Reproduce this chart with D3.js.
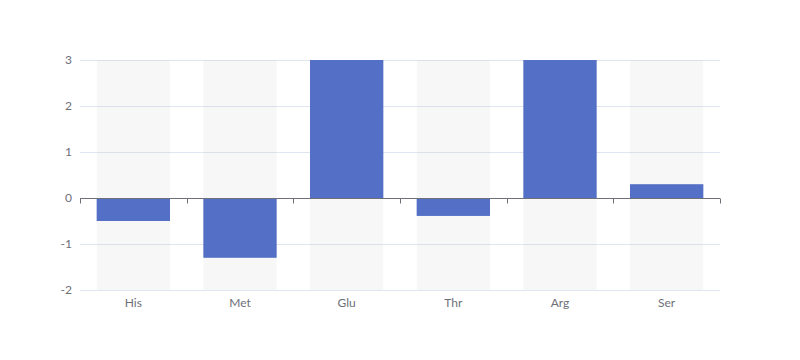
<!DOCTYPE html>
<html><head><meta charset="utf-8">
<script src="https://cdn.jsdelivr.net/npm/d3@7"></script>
<style>body{margin:0;background:#fff}svg{display:block}text{font-family:Lato,sans-serif;font-size:12px;fill:#6E7079}</style>
</head><body><svg id="c" width="800" height="360"></svg>
<script>
const categories = ["His","Met","Glu","Thr","Arg","Ser"];
const values = [-0.5,-1.3,3.6,-0.39,3.6,0.3];
const yTicks = [-2,-1,0,1,2,3];

const W=800,H=360,m={l:80,r:80,t:60,b:70};
const svg=d3.select("#c");
const x=d3.scaleBand().domain(categories).range([m.l,W-m.r]);
const y=d3.scaleLinear().domain([-2,3]).range([H-m.b,m.t]);
const bw=x.bandwidth()*0.6875;

svg.append("g").selectAll("line").data(yTicks).join("line")
 .attr("x1",m.l).attr("x2",W-m.r).attr("y1",d=>y(d)+0.5).attr("y2",d=>y(d)+0.5)
 .attr("stroke","#E0E6F1");
svg.append("g").selectAll("rect").data(categories).join("rect")
 .attr("x",d=>x(d)+(x.bandwidth()-bw)/2).attr("width",bw)
 .attr("y",m.t).attr("height",H-m.b-m.t).attr("fill","rgba(180,180,180,0.1)");
svg.append("defs").append("clipPath").attr("id","clip").append("rect")
 .attr("x",m.l).attr("y",m.t).attr("width",W-m.l-m.r).attr("height",H-m.t-m.b);
svg.append("g").attr("clip-path","url(#clip)").selectAll("rect").data(values).join("rect")
 .attr("x",(d,i)=>x(categories[i])+(x.bandwidth()-bw)/2).attr("width",bw)
 .attr("y",d=>y(Math.max(0,d))).attr("height",d=>Math.abs(y(d)-y(0)))
 .attr("fill","#5470c6");
svg.append("g").selectAll("text").data(yTicks).join("text")
 .attr("x",m.l-8).attr("y",d=>y(d)).attr("dy","0.35em").attr("text-anchor","end").text(d=>d);
// axis at 0
const y0=Math.round(y(0))+0.5;
svg.append("line").attr("x1",m.l).attr("x2",W-m.r).attr("y1",y0).attr("y2",y0).attr("stroke","#6E7079");
const bounds=categories.map(c=>x(c)).concat([W-m.r]);
svg.append("g").selectAll("line").data(bounds).join("line")
 .attr("x1",d=>Math.round(d)+0.5).attr("x2",d=>Math.round(d)+0.5).attr("y1",y0).attr("y2",y0+5).attr("stroke","#6E7079");
svg.append("g").selectAll("text").data(categories).join("text")
 .attr("x",d=>x(d)+x.bandwidth()/2).attr("y",H-m.b+17).attr("text-anchor","middle").text(d=>d);
</script></body></html>
